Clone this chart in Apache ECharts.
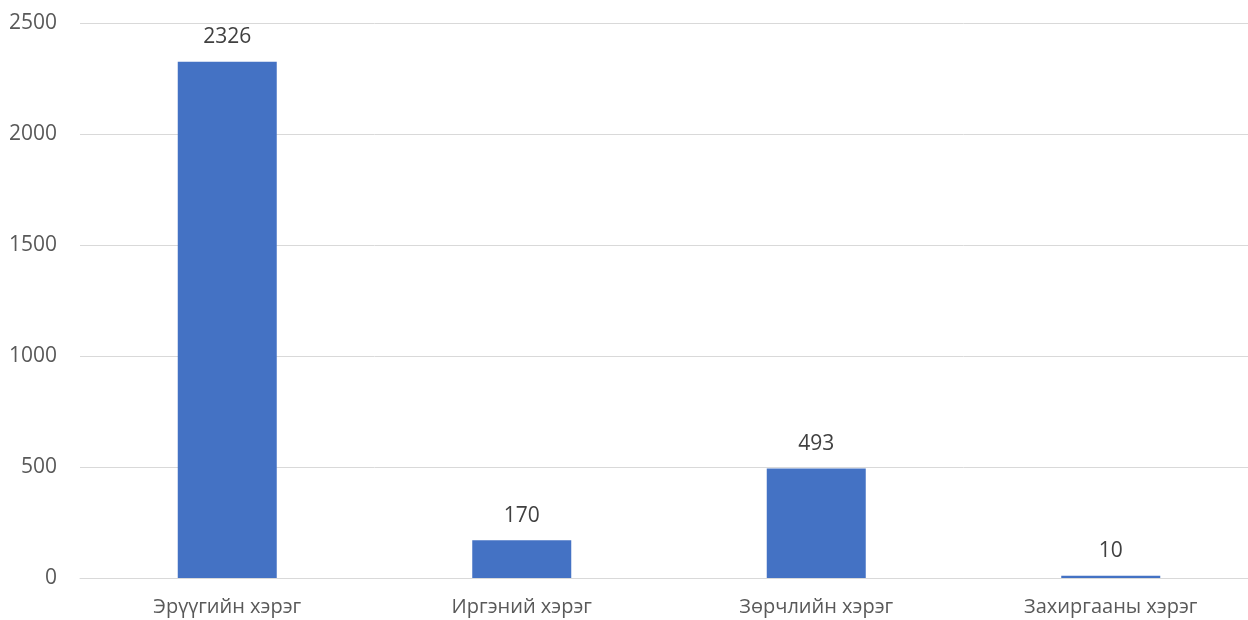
<!DOCTYPE html>
<html>
<head>
<meta charset="utf-8">
<script src="https://cdn.jsdelivr.net/npm/echarts@6/dist/echarts.min.js"></script>
<style>
html,body{margin:0;padding:0;background:#fff;overflow:hidden;}
#wrap{width:1248px;height:620px;overflow:hidden;}
#chart{width:1258px;height:620px;}
</style>
</head>
<body>
<div id="wrap"><div id="chart"></div></div>
<script>
const categories = ['Эрүүгийн хэрэг', 'Иргэний хэрэг', 'Зөрчлийн хэрэг', 'Захиргааны хэрэг'];
const values = [2326, 170, 493, 10];
const yTicks = [0, 500, 1000, 1500, 2000, 2500];

const chart = echarts.init(document.getElementById('chart'));
const font = '"Open Sans", "Noto Sans", sans-serif';
chart.setOption({
  animation: false,
  grid: { left: 80, right: 0, top: 23, bottom: 42, containLabel: false },
  xAxis: {
    type: 'category',
    data: categories,
    axisLine: { show: true, lineStyle: { color: '#d9d9d9', width: 1 } },
    axisTick: { show: false },
    axisLabel: { color: '#595959', fontSize: 20, fontFamily: font, margin: 19 }
  },
  yAxis: {
    type: 'value',
    min: yTicks[0], max: yTicks[yTicks.length - 1], interval: 500,
    axisLine: { show: false },
    axisTick: { show: false },
    splitLine: { lineStyle: { color: '#d9d9d9', width: 1 } },
    axisLabel: { color: '#595959', fontSize: 21, fontFamily: font, margin: 23, formatter: v => String(v) }
  },
  series: [{
    type: 'bar',
    data: values,
    barWidth: 99,
    itemStyle: { color: '#4472c4' },
    label: { show: true, position: 'top', distance: 14, color: '#404040', fontSize: 21, fontFamily: font }
  }]
});
</script>
</body>
</html>
